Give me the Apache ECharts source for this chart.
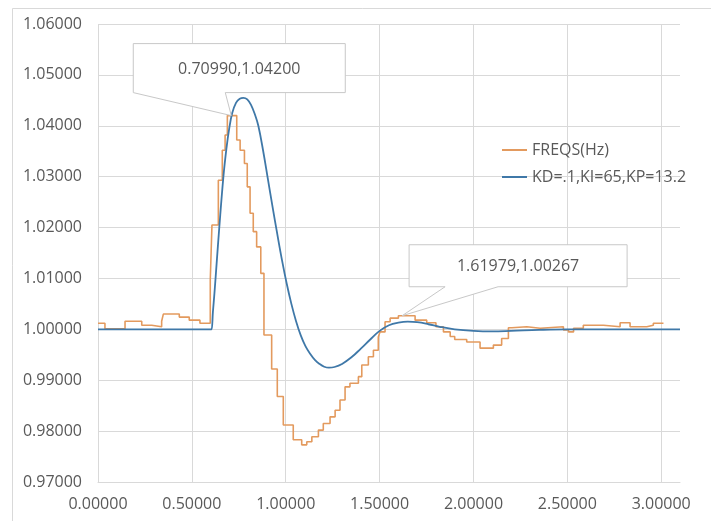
<!DOCTYPE html>
<html>
<head>
<meta charset="utf-8">
<script src="https://cdn.jsdelivr.net/npm/echarts@6/dist/echarts.min.js"></script>
<style>
  html, body { margin: 0; padding: 0; background: #ffffff; }
  #chart { width: 711px; height: 521px; }
</style>
</head>
<body>
<div id="chart"></div>
<script>
// Measured frequency (sample-and-hold): time [s] where each held value starts
const freqTimes = [
  0.000, 0.037, 0.144, 0.233, 0.286, 0.339, 0.348, 0.433, 0.486, 0.543,
  0.598, 0.607, 0.641, 0.662, 0.677, 0.689, 0.7099, 0.739, 0.757, 0.780,
  0.795, 0.810, 0.827, 0.845, 0.867, 0.884, 0.925, 0.955, 0.987, 1.040,
  1.085, 1.112, 1.139, 1.174, 1.200, 1.236, 1.263, 1.289, 1.316, 1.342,
  1.387, 1.405, 1.440, 1.467, 1.493, 1.502, 1.529, 1.556, 1.600, 1.61979,
  1.689, 1.751, 1.800, 1.840, 1.876, 1.900, 1.964, 2.035, 2.106, 2.150,
  2.186, 2.204, 2.284, 2.355, 2.479, 2.506, 2.533, 2.585, 2.692, 2.781,
  2.834, 2.923, 2.958, 3.012
];
const freqValues = [
  1.0012, 1.0001, 1.0016, 1.0008, 1.0005, 1.0016, 1.0030, 1.0024, 1.0018, 1.0012,
  1.0097, 1.0205, 1.0293, 1.0352, 1.0382, 1.0420, 1.0420, 1.0372, 1.0352, 1.0326,
  1.0280, 1.0228, 1.0192, 1.0162, 1.0110, 0.9989, 0.9922, 0.9868, 0.9812, 0.9783,
  0.9773, 0.9779, 0.9789, 0.9802, 0.9815, 0.9828, 0.9841, 0.9861, 0.9887, 0.9894,
  0.9907, 0.9930, 0.9946, 0.9959, 0.9985, 0.9995, 1.0015, 1.0022, 1.00267, 1.00267,
  1.0018, 1.0013, 1.0005, 0.9995, 0.9986, 0.9980, 0.9975, 0.9963, 0.9969, 0.9982,
  1.0003, 1.0005, 1.0002, 1.0005, 0.9999, 0.9995, 1.0002, 1.0008, 1.0005, 1.0013,
  1.0005, 1.0008, 1.0012, 1.0012
];

// Simulated response with the PID gains named in the legend
const pidTimes = [
  0.000, 0.300, 0.590, 0.600, 0.605, 0.612, 0.620, 0.632, 0.646, 0.668,
  0.684, 0.699, 0.715, 0.735, 0.755, 0.774, 0.795, 0.815, 0.835, 0.854,
  0.880, 0.905, 0.930, 0.955, 0.980, 1.005, 1.030, 1.055, 1.080, 1.105,
  1.130, 1.155, 1.180, 1.205, 1.230, 1.260, 1.300, 1.350, 1.400, 1.450,
  1.500, 1.550, 1.600, 1.650, 1.700, 1.760, 1.820, 1.900, 2.000, 2.100,
  2.200, 2.350, 2.500, 3.100
];
const pidValues = [
  1.0000, 1.0000, 1.0000, 1.0000, 1.0000, 1.0034, 1.0070, 1.0130, 1.0200, 1.0300,
  1.0355, 1.0395, 1.0425, 1.0445, 1.0453, 1.0455, 1.0452, 1.0441, 1.0423, 1.0400,
  1.0350, 1.0295, 1.0240, 1.0187, 1.0136, 1.0090, 1.0050, 1.0016, 0.9988, 0.9967,
  0.9952, 0.9940, 0.9932, 0.99265, 0.99246, 0.9926, 0.9932, 0.9945, 0.9962, 0.9980,
  0.9997, 1.0008, 1.0013, 1.0015, 1.0014, 1.0010, 1.0005, 1.0000, 0.9997, 0.9996,
  0.9997, 0.9999, 1.0000, 1.0000
];

const seriesNames = ['FREQS(Hz)', 'KD=.1,KI=65,KP=13.2'];

// Axis ranges and tick spacing
const xRange = [0, 3.1];
const xStep = 0.5;
const yRange = [0.97, 1.06];
const yStep = 0.01;

// Annotated samples of the measured frequency
const calloutPoints = [
  [0.70990, 1.04200],
  [1.61979, 1.00267]
];

const FONT = '"Open Sans", "Noto Sans", sans-serif';
const TEXT_COLOR = '#595959';
const GRID_COLOR = '#d9d9d9';
const ORANGE = '#e39a5e';
const BLUE = '#3f78a8';

const chart = echarts.init(document.getElementById('chart'), null, { renderer: 'canvas' });

const zip = (ts, vs) => ts.map((t, i) => [t, vs[i]]);

chart.setOption({
  backgroundColor: '#ffffff',
  animation: false,
  textStyle: { fontFamily: FONT },
  grid: { left: 98, right: 31, top: 24, bottom: 39, containLabel: false },
  legend: {
    orient: 'vertical',
    left: 497,
    top: 137,
    icon: 'rect',
    itemWidth: 25,
    itemHeight: 2,
    itemGap: 11,
    textStyle: { color: TEXT_COLOR, fontSize: 16, fontFamily: FONT, lineHeight: 16 },
    data: seriesNames
  },
  xAxis: {
    type: 'value',
    min: xRange[0],
    max: xRange[1],
    interval: xStep,
    axisLine: { show: true, lineStyle: { color: GRID_COLOR, width: 1 } },
    axisTick: { show: false },
    axisLabel: {
      color: TEXT_COLOR, fontSize: 16, fontFamily: FONT, margin: 14,
      showMaxLabel: false,
      formatter: v => v.toFixed(5)
    },
    splitLine: { show: true, showMaxLine: false, lineStyle: { color: GRID_COLOR, width: 1 } }
  },
  yAxis: {
    type: 'value',
    min: yRange[0],
    max: yRange[1],
    interval: yStep,
    axisLine: { show: false },
    axisTick: { show: false },
    axisLabel: {
      color: TEXT_COLOR, fontSize: 16, fontFamily: FONT, margin: 16,
      formatter: v => v.toFixed(5)
    },
    splitLine: { show: true, lineStyle: { color: GRID_COLOR, width: 1 } }
  },
  series: [
    {
      name: seriesNames[0],
      type: 'line',
      step: 'end',
      symbol: 'none',
      data: zip(freqTimes, freqValues),
      lineStyle: { color: ORANGE, width: 1.6 },
      itemStyle: { color: ORANGE },
      z: 3
    },
    {
      name: seriesNames[1],
      type: 'line',
      smooth: 0.4,
      symbol: 'none',
      data: zip(pidTimes, pidValues),
      lineStyle: { color: BLUE, width: 1.8 },
      itemStyle: { color: BLUE },
      z: 4
    }
  ]
});

// Callout boxes: box edges and wedge base are offsets from the annotated sample
const calloutLayouts = [
  { left: -98, right: 114, top: -72, bottom: -23, baseA: -98, baseB: -6 },
  { left: 7, right: 225, top: -71, bottom: -29, baseA: 43, baseB: 96 }
];

const graphics = [];
calloutPoints.forEach((p, i) => {
  const [px, py] = chart.convertToPixel({ xAxisIndex: 0, yAxisIndex: 0 }, p);
  const L = calloutLayouts[i];
  const x0 = px + L.left, x1 = px + L.right, y0 = py + L.top, y1 = py + L.bottom;
  const points = [
    [x0, y0], [x1, y0], [x1, y1], [px + L.baseB, y1], [px, py], [px + L.baseA, y1], [x0, y1]
  ];
  graphics.push({
    type: 'polygon',
    z: 100,
    shape: { points },
    style: { fill: '#ffffff', stroke: '#c8c8c8', lineWidth: 1 }
  });
  graphics.push({
    type: 'text',
    z: 101,
    style: {
      text: p[0].toFixed(5) + ',' + p[1].toFixed(5),
      x: (x0 + x1) / 2,
      y: (y0 + y1) / 2 + 1,
      align: 'center',
      verticalAlign: 'middle',
      font: '16px ' + FONT,
      fill: TEXT_COLOR
    }
  });
});

// Chart area frame
graphics.push({
  type: 'rect',
  z: 0,
  shape: { x: 12.5, y: 8.5, width: 800, height: 600 },
  style: { fill: 'none', stroke: '#d9d9d9', lineWidth: 1 }
});

chart.setOption({ graphic: graphics });
</script>
</body>
</html>
